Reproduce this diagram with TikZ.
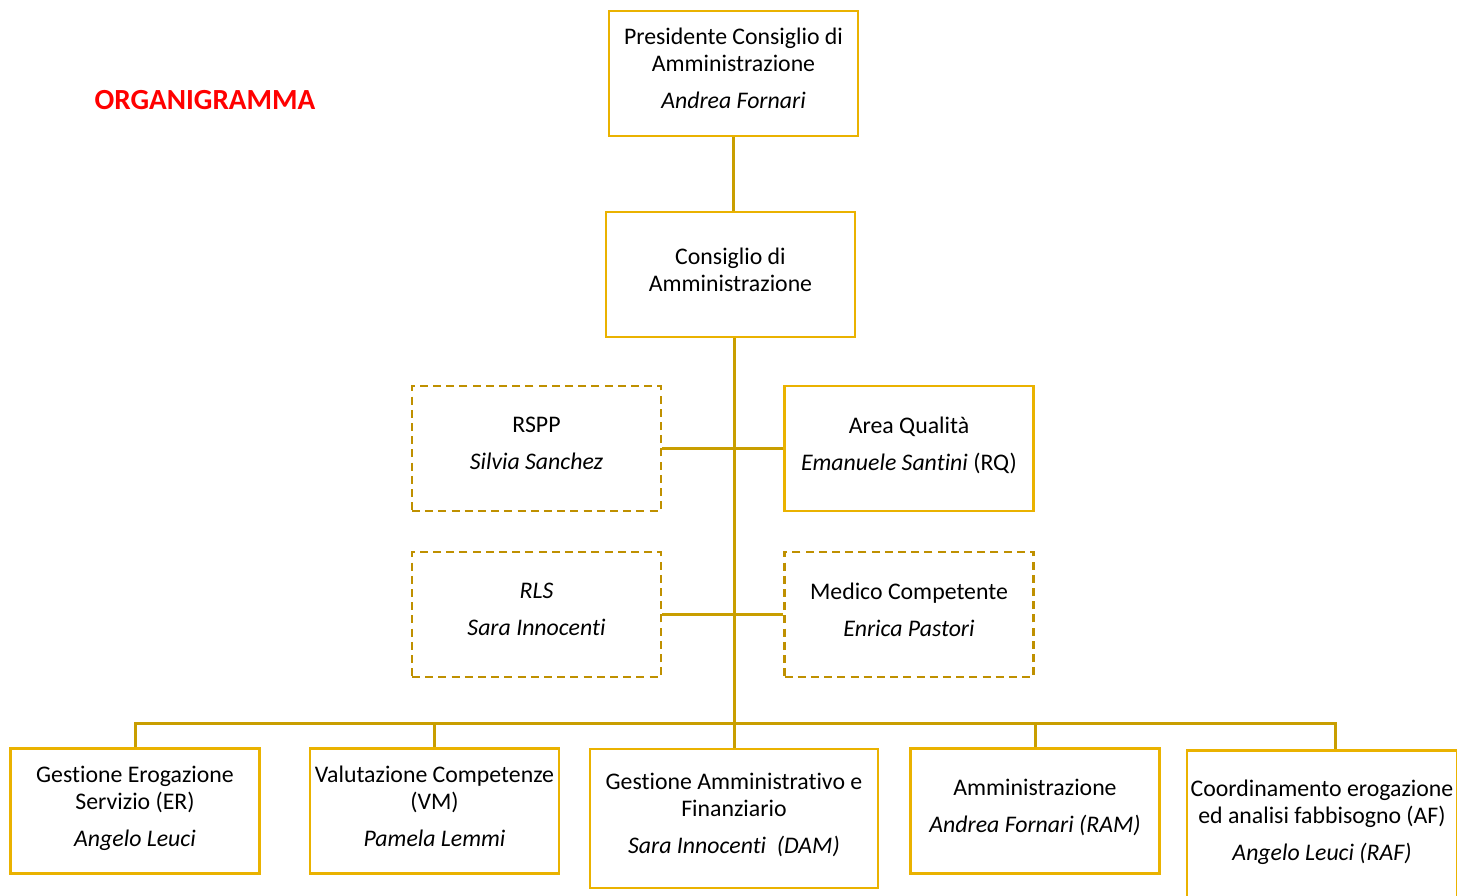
\documentclass[tikz,border=0pt]{standalone}
\usepackage{fontspec}
\setmainfont{Carlito}[Ligatures=NoCommon]
\usepackage{tikz}
\usetikzlibrary{positioning,calc}
\definecolor{cBox}{HTML}{EAB200}
\definecolor{cDash}{HTML}{BF9000}
\definecolor{cLink}{HTML}{C99E00}
\definecolor{cTitle}{HTML}{FF0000}
\tikzset{
  box/.style={draw=cBox, line width=1.25pt, fill=white, minimum width=124.5pt,
              minimum height=62.5pt, inner sep=2pt, align=center, text depth=5pt,
              font=\fontsize{11.9}{13.5}\selectfont},
  dbox/.style={box, draw=cDash, dash pattern=on 4pt off 2.6pt},
  conn/.style={draw=cLink, line width=1.5pt},
  ttl/.style={font=\bfseries\fontsize{14.6}{17}\selectfont, text=cTitle}
}
\newcommand{\namegap}{5pt}

\begin{document}
\begin{tikzpicture}[x=0.5pt, y=-0.5pt]
\clip (0,0) rectangle (1457,895);
\node[ttl] (title) at (205,100) {ORGANIGRAMMA};
% top of the chart
\node[box] (pres) at (733.5,73.5) {Presidente Consiglio di\\Amministrazione\\[\namegap]\textit{Andrea Fornari}};
\node[box] (cda) at (730.5,274.5) {Consiglio di\\Amministrazione};
% staff boxes
\node[dbox] (rspp) at (536.5,448.5) {RSPP\\[\namegap]\textit{Silvia Sanchez}};
\node[box] (qual) at (909,448.5) {Area Qualità\\[\namegap]\textit{Emanuele Santini} (RQ)};
\node[dbox] (rls) at (536.5,614.5) {\textit{RLS}\\[\namegap]\textit{Sara Innocenti}};
\node[dbox] (medico) at (909,614.5) {Medico Competente\\[\namegap]\textit{Enrica Pastori}};
% functions
\node[box] (er) at (135,811) {Gestione Erogazione\\Servizio (ER)\\[\namegap]\textit{Angelo Leuci}};
\node[box] (vm) at (434.5,811) {Valutazione Competenze\\(VM)\\[\namegap]\textit{Pamela Lemmi}};
\node[box, minimum width=144pt, minimum height=69.5pt] (dam) at (734,818.5) {Gestione Amministrativo e\\Finanziario\\[\namegap]\textit{Sara Innocenti\ \ (DAM)}};
\node[box] (ram) at (1035,811) {Amministrazione\\[\namegap]\textit{Andrea Fornari (RAM)}};
\node[box, anchor=north, minimum width=135pt, inner xsep=1pt, inner ysep=15pt, text depth=48pt] (af) at (1322,749) {Coordinamento erogazione\\ed analisi fabbisogno (AF)\\[\namegap]\textit{Angelo Leuci (RAF)}};
% links
\coordinate (hub) at (734,723);
\coordinate (drop) at (1335,723);
\draw[conn] (pres.south) -- (pres.south |- cda.north);
\draw[conn] (cda.south -| hub) -- (hub);
\draw[conn] (rspp.east) -- (qual.west);
\draw[conn] (rls.east) -- (medico.west);
\draw[conn] (er.north) -- (er.north |- hub) -- (drop) -- (drop |- af.north);
\draw[conn] (vm.north) -- (vm.north |- hub);
\draw[conn] (dam.north) -- (dam.north |- hub);
\draw[conn] (ram.north) -- (ram.north |- hub);
\end{tikzpicture}
\end{document}
